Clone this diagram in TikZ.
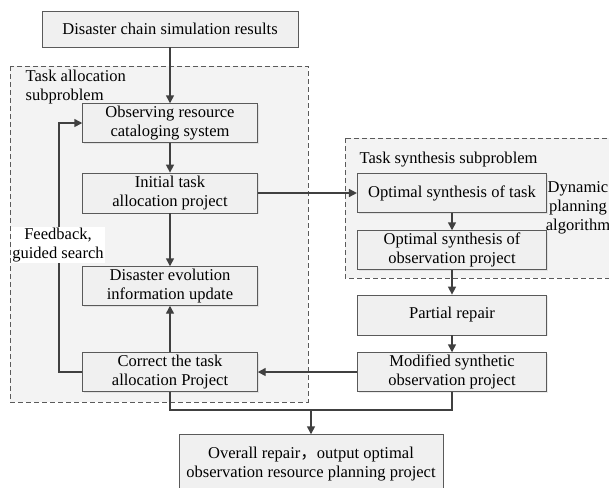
\documentclass[tikz,border=0pt]{standalone}
\usepackage{fontspec}
\setmainfont{Liberation Serif}
\newfontfamily\cjk{Noto Sans CJK SC}
\usetikzlibrary{shadows,arrows.meta}
\definecolor{linegray}{RGB}{64,64,64}
\definecolor{boxline}{RGB}{90,90,90}
\definecolor{groupfill}{RGB}{243,243,243}
\definecolor{boxfill}{RGB}{240,240,240}
\tikzset{
  box/.style={draw=boxline, fill=boxfill, line width=0.6pt, inner sep=0pt, align=center,
    font=\fontsize{12.4}{14.3}\selectfont,
    drop shadow={shadow xshift=1pt, shadow yshift=-1pt, opacity=0.15, fill=gray}},
  group/.style={draw=boxline, dash pattern=on 4pt off 2pt, fill=groupfill, line width=0.6pt},
  conn/.style={draw=linegray, line width=1.1pt},
  arr/.style={conn, -{Triangle[length=6pt,width=6pt]}},
  lbl/.style={font=\fontsize{12.4}{14.3}\selectfont, inner sep=1pt}
}
\begin{document}
\begin{tikzpicture}[x=0.75pt,y=-0.75pt]
\useasboundingbox[fill=white] (0,0) rectangle (609,487);
\draw[group] (10,66) rectangle (308,402);
\draw[group] (345,138) rectangle (616,278);
\node[lbl, align=left, anchor=north west] (tal) at (24,68) {Task allocation\\subproblem};
\node[lbl, anchor=west] (tsl) at (358,160) {Task synthesis subproblem};
\node[lbl, align=center] (dpa) at (578,208) {Dynamic\\planning\\algorithm};
% left column
\node[box, minimum width=192pt, minimum height=27pt] (sim) at (170,29) {Disaster chain simulation results};
\node[box, minimum width=131pt, minimum height=29pt] (obs) at (170,123) {Observing resource\\cataloging system};
\node[box, minimum width=131pt, minimum height=30pt] (init) at (170,193) {Initial task\\allocation project};
\node[box, minimum width=131pt, minimum height=29pt] (evo) at (170,286) {Disaster evolution\\information update};
\node[box, minimum width=131pt, minimum height=29pt] (corr) at (170,372) {Correct the task\\allocation Project};
% right column
\node[box, minimum width=142pt, minimum height=29pt] (optT) at (452,193) {Optimal synthesis of task};
\node[box, minimum width=142pt, minimum height=29pt] (optO) at (452,250) {Optimal synthesis of\\observation project};
\node[box, minimum width=142pt, minimum height=30pt] (part) at (452,315) {Partial repair};
\node[box, minimum width=142pt, minimum height=29pt] (modif) at (452,372) {Modified synthetic\\observation project};
\node[box, minimum width=198pt, minimum height=44pt] (over) at (311,464) {Overall repair{\cjk ，}output optimal\\observation resource planning project};
% connectors
\draw[arr] (sim) -- (obs);
\draw[arr] (obs) -- (init);
\draw[arr] (init) -- (evo);
\draw[arr] (corr) -- (evo);
\draw[arr] (init.east) -- (optT.west);
\draw[arr] (optT) -- (optO);
\draw[arr] (optO) -- (part);
\draw[arr] (part) -- (modif);
\draw[arr] (modif.west) -- (corr.east);
\draw[arr] (corr.west) -- ++(-23.5,0) |- (obs.west);
\node[lbl, fill=white, align=center] (fb) at (58,245) {Feedback,\\guided search};
\coordinate (mg) at (311,410);
\draw[conn] (corr.south) |- (mg);
\draw[conn] (modif.south) |- (mg);
\draw[arr] (mg) -- (over.north);
\end{tikzpicture}
\end{document}
